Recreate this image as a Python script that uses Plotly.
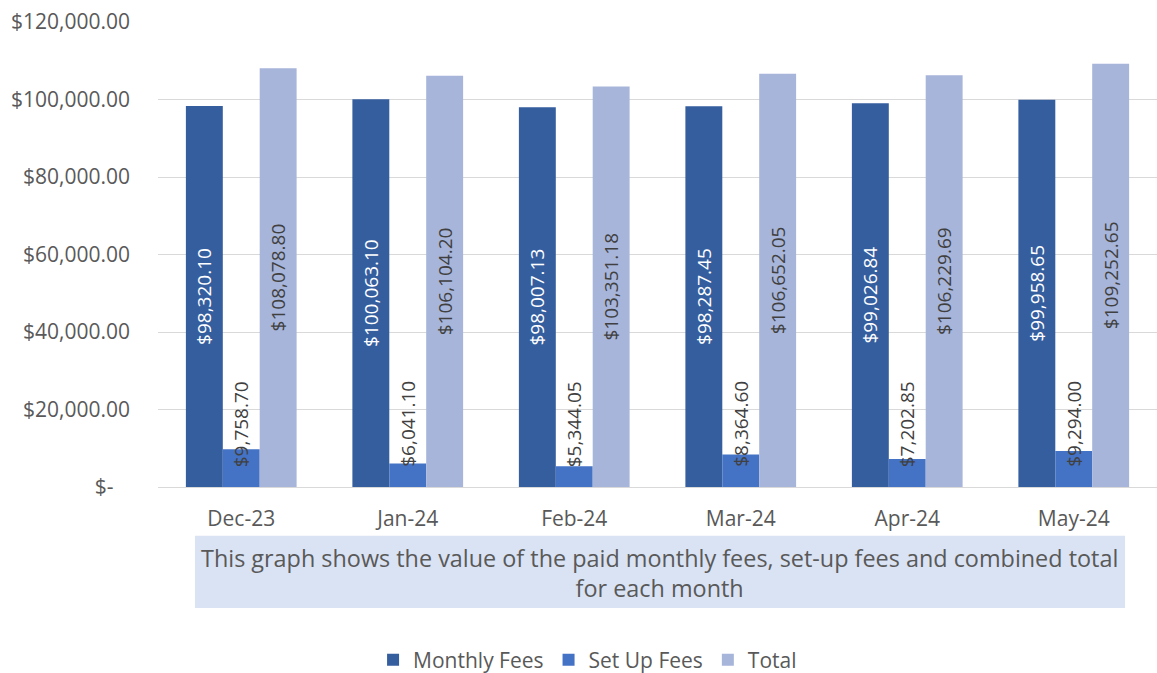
import plotly.graph_objects as go

months = ["Dec-23", "Jan-24", "Feb-24", "Mar-24", "Apr-24", "May-24"]
monthly_fees = [98320.10, 100063.10, 98007.13, 98287.45, 99026.84, 99958.65]
setup_fees = [9758.70, 6041.10, 5344.05, 8364.60, 7202.85, 9294.00]
totals = [108078.80, 106104.20, 103351.18, 106652.05, 106229.69, 109252.65]
y_tickvals = [0, 20000, 40000, 60000, 80000, 100000, 120000]
y_ticktext = ["$-\u00a0\u00a0\u00a0", "$20,000.00", "$40,000.00", "$60,000.00",
              "$80,000.00", "$100,000.00", "$120,000.00"]
caption = ("This graph shows the value of the paid monthly fees, set-up fees and combined total"
           "<br>for each month")

FONT = "Open Sans"
GREY = "#595959"
DARK = "#404040"

def money(v):
    return "${:,.2f}".format(v)

fig = go.Figure()
fig.add_trace(go.Bar(
    name="Monthly Fees", x=months, y=monthly_fees, marker_color="#355E9F",
    marker_line_width=0,
    text=[money(v) for v in monthly_fees], textposition="inside", insidetextanchor="middle",
    textangle=-90, textfont=dict(color="white", size=19, family=FONT),
    constraintext="none", hoverinfo="skip"))
fig.add_trace(go.Bar(
    name="Set Up Fees", x=months, y=setup_fees, marker_color="#4472C4",
    marker_line_width=0, hoverinfo="skip"))
fig.add_trace(go.Bar(
    name="Total", x=months, y=totals, marker_color="#A7B5DA",
    marker_line_width=0,
    text=[money(v) for v in totals], textposition="inside", insidetextanchor="middle",
    textangle=-90, textfont=dict(color=DARK, size=19, family=FONT),
    constraintext="none", hoverinfo="skip"))

for m, v in zip(months, setup_fees):
    fig.add_annotation(x=m, y=0, xref="x", yref="y", text=money(v), showarrow=False,
                       textangle=-90, yanchor="bottom", xanchor="center",
                       yshift=18, font=dict(color=DARK, size=19, family=FONT))

fig.add_shape(type="rect", xref="paper", yref="paper", x0=0.037, x1=0.968,
              y0=-0.260, y1=-0.105, fillcolor="#DAE3F3", line_width=0, layer="below")
fig.add_annotation(xref="paper", yref="paper", x=0.5025, y=-0.184, text=caption,
                   showarrow=False, xanchor="center", yanchor="middle",
                   font=dict(color=GREY, size=23.4, family=FONT))

fig.update_layout(
    width=1157, height=681,
    margin=dict(l=158, r=0, t=22, b=188),
    paper_bgcolor="white", plot_bgcolor="white",
    barmode="group", bargap=0.335, bargroupgap=0,
    font=dict(family=FONT, color=GREY, size=21),
    showlegend=True,
    legend=dict(orientation="h", x=0.430, xanchor="center", y=-0.372, yanchor="middle",
                font=dict(size=21, color=GREY, family=FONT), itemwidth=30,
                traceorder="normal"),
    xaxis=dict(showgrid=False, showline=True, linecolor="#D9D9D9", linewidth=1,
               ticks="", ticklabelstandoff=13,
               tickfont=dict(size=21, color=GREY, family=FONT)),
    yaxis=dict(range=[0, 120000], tickvals=y_tickvals, ticktext=y_ticktext,
               showgrid=True, gridcolor="#D9D9D9", gridwidth=1, zeroline=False,
               showline=False, ticks="", ticklabelstandoff=27,
               tickfont=dict(size=21, color=GREY, family=FONT)),
)

post = (
    "document.documentElement.style.overflow='hidden';"
    "document.body.style.margin='0';document.body.style.overflow='hidden';"
    "var d=document.getElementById('{plot_id}');"
    "d.style.position='fixed';d.style.top='0px';d.style.left='0px';"
)
fig.write_html("out.html", config={"displayModeBar": False}, post_script=post)
